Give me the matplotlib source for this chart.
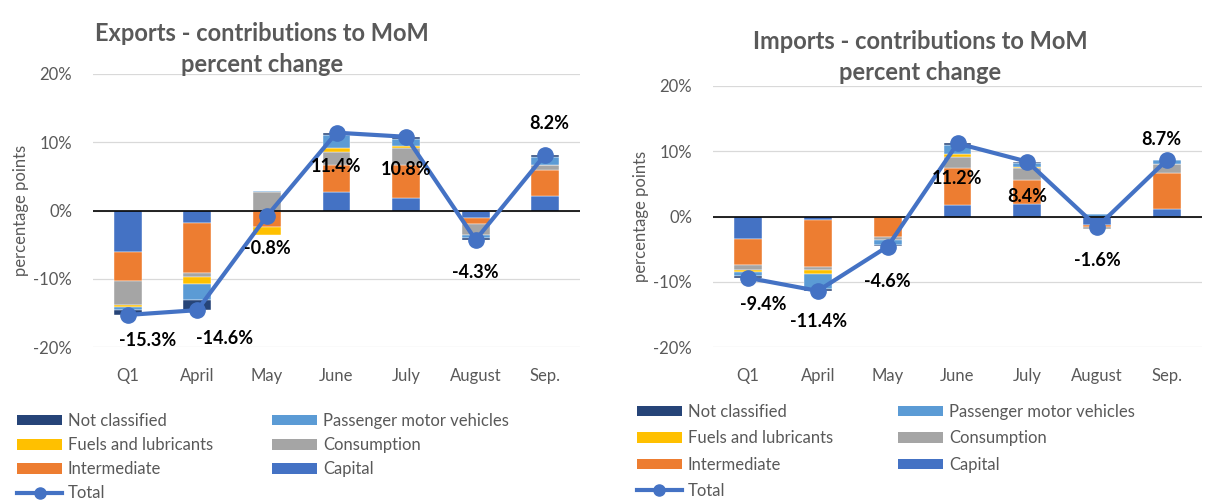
import matplotlib
matplotlib.use("Agg")
import matplotlib.pyplot as plt
from matplotlib.patches import Patch
from matplotlib.lines import Line2D
import numpy as np

plt.rcParams["font.family"] = ["Lato", "DejaVu Sans"]

categories = ["Q1", "April", "May", "June", "July", "August", "Sep."]

# Exports contributions (percentage points)
exp_capital      = [-6.1, -1.8, 0.0, 2.7, 1.9, -1.15, 2.1]
exp_intermediate = [-4.3, -7.4, -2.4, 3.9, 4.7, -0.9, 3.85]
exp_consumption  = [-3.4, -0.6, 2.7, 1.95, 2.6, -1.5, 0.7]
exp_fuels        = [-0.3, -1.0, -1.2, 0.6, 0.2, 0.0, 0.0]
exp_passenger    = [-0.5, -2.3, 0.1, 1.85, 1.1, -0.5, 1.2]
exp_notclass     = [-0.7, -1.5, 0.0, 0.35, 0.25, -0.25, 0.35]
exp_total        = [-15.3, -14.6, -0.8, 11.4, 10.8, -4.3, 8.2]

# Imports contributions (percentage points)
imp_capital      = [-3.4, -0.5, 0.0, 1.8, 1.9, -1.25, 1.1]
imp_intermediate = [-4.0, -7.2, -3.2, 5.7, 3.65, -0.35, 5.6]
imp_consumption  = [-0.8, -0.5, -0.35, 1.6, 1.9, -0.35, 1.4]
imp_fuels        = [-0.35, -0.6, 0.0, 0.5, 0.15, 0.0, 0.0]
imp_passenger    = [-0.5, -2.25, -0.75, 1.3, 0.6, 0.35, 0.6]
imp_notclass     = [-0.35, -0.35, -0.25, 0.35, 0.2, 0.0, 0.0]
imp_total        = [-9.4, -11.4, -4.6, 11.2, 8.4, -1.6, 8.7]

SERIES = ["Capital", "Intermediate", "Consumption", "Fuels and lubricants",
          "Passenger motor vehicles", "Not classified"]
COLORS = {"Capital": "#4472C4", "Intermediate": "#ED7D31", "Consumption": "#A5A5A5",
          "Fuels and lubricants": "#FFC000", "Passenger motor vehicles": "#5B9BD5",
          "Not classified": "#264478"}
LINE_C = "#4472C4"
GRAY = "#595959"

# label offsets in pixels (dx, dy)
exp_offsets = [(20, -26), (27, -28), (0, -33), (0, -34), (0, -33), (0, -33), (4, 31)]
imp_offsets = [(15, -27), (1, -31), (0, -35), (0, -35), (0, -35), (0, -34), (-6, 20)]


def draw(ax, parts, total, offsets):
    x = np.arange(len(categories))
    pos = np.zeros(len(x))
    neg = np.zeros(len(x))
    for name, vals in zip(SERIES, parts):
        v = np.array(vals)
        bottom = np.where(v >= 0, pos, neg)
        ax.bar(x, v, bottom=bottom, width=0.4, color=COLORS[name],
               edgecolor="white", linewidth=0.3, zorder=2)
        pos += np.where(v >= 0, v, 0)
        neg += np.where(v < 0, v, 0)
    ax.axhline(0, color="black", lw=1.2, zorder=3)
    ax.plot(x, total, color=LINE_C, lw=3, marker="o", markersize=11, zorder=4)
    for xi, t, (dx, dy) in zip(x, total, offsets):
        ax.annotate(f"{t:.1f}%", (xi, t), xytext=(dx, dy), textcoords="offset pixels",
                    ha="center", va="center", fontsize=13, fontweight="bold",
                    color="black", zorder=5)
    ax.set_xlim(-0.5, len(x) - 0.5)
    ax.set_ylim(-20, 20)
    ax.set_yticks([-20, -10, 0, 10, 20])
    ax.set_yticklabels([f"{v}%" for v in [-20, -10, 0, 10, 20]])
    ax.set_xticks(x)
    ax.set_xticklabels(categories)
    ax.tick_params(axis="both", length=0, labelsize=12, labelcolor=GRAY)
    ax.tick_params(axis="y", pad=15)
    ax.tick_params(axis="x", pad=15)
    ax.grid(axis="y", color="#D9D9D9", lw=0.9, zorder=0)
    ax.set_axisbelow(True)
    for s in ax.spines.values():
        s.set_visible(False)


fig = plt.figure(figsize=(12.2, 5.01), dpi=100)
ax1 = fig.add_axes([93 / 1220, 1 - 347 / 501, 487 / 1220, 273 / 501])
ax2 = fig.add_axes([713 / 1220, 1 - 347 / 501, 489 / 1220, 261 / 501])

draw(ax1, [exp_capital, exp_intermediate, exp_consumption, exp_fuels, exp_passenger, exp_notclass],
     exp_total, exp_offsets)
draw(ax2, [imp_capital, imp_intermediate, imp_consumption, imp_fuels, imp_passenger, imp_notclass],
     imp_total, imp_offsets)

fig.text(262 / 1220, 1 - 49 / 501, "Exports - contributions to MoM\npercent change",
         ha="center", va="center", fontsize=17, fontweight="bold", color=GRAY, linespacing=1.42)
fig.text(920 / 1220, 1 - 57 / 501, "Imports - contributions to MoM\npercent change",
         ha="center", va="center", fontsize=17, fontweight="bold", color=GRAY, linespacing=1.42)
fig.text(21 / 1220, 1 - 210 / 501, "percentage points", rotation=90, ha="center",
         va="center", fontsize=12, color=GRAY)
fig.text(641 / 1220, 1 - 216 / 501, "percentage points", rotation=90, ha="center",
         va="center", fontsize=12, color=GRAY)

# legends: two columns each, placed by hand
col1 = ["Not classified", "Fuels and lubricants", "Intermediate"]
col2 = ["Passenger motor vehicles", "Consumption", "Capital"]


def legend_col(names, x0, y0, spacing, with_total=False):
    handles = [Patch(facecolor=COLORS[n]) for n in names]
    labels = list(names)
    if with_total:
        handles.append(Line2D([], [], color=LINE_C, lw=3, marker="o", markersize=8))
        labels.append("Total")
    leg = fig.legend(handles, labels, loc="upper left", bbox_to_anchor=(x0 / 1220, 1 - y0 / 501),
                     frameon=False, fontsize=12, handlelength=2.7, handleheight=0.6,
                     handletextpad=0.35, labelspacing=spacing, borderpad=0, borderaxespad=0,
                     labelcolor=GRAY)
    return leg


legend_col(col1, 17, 413, 0.49, with_total=True)
legend_col(col2, 272, 413, 0.49)
legend_col(col1, 637, 404, 0.62, with_total=True)
legend_col(col2, 898, 404, 0.62)

fig.savefig("out.png", dpi=100)
